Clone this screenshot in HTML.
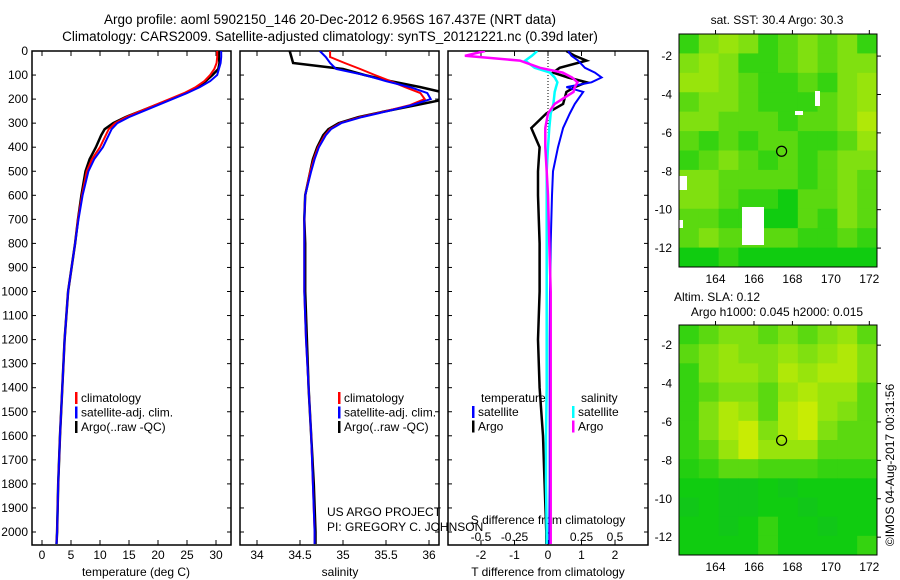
<!DOCTYPE html>
<html><head><meta charset="utf-8"><style>
body{margin:0;background:#fff;}
svg{display:block;font-family:"Liberation Sans",sans-serif;}
</style></head><body>
<svg id="c" width="900" height="580" viewBox="0 0 900 580">
<text x="330" y="24" font-size="13.5" text-anchor="middle">Argo profile: aoml 5902150_146 20-Dec-2012 6.956S 167.437E (NRT data)</text>
<text x="330" y="41" font-size="13.5" text-anchor="middle">Climatology: CARS2009. Satellite-adjusted climatology: synTS_20121221.nc (0.39d later)</text>
<text x="777" y="24" font-size="12" text-anchor="middle">sat. SST: 30.4 Argo: 30.3</text>
<text x="717" y="301" font-size="12" text-anchor="middle">Altim. SLA: 0.12</text>
<text x="777" y="316" font-size="12" text-anchor="middle">Argo h1000: 0.045 h2000: 0.015</text>
<text transform="translate(894,465) rotate(-90)" font-size="12" text-anchor="middle">©IMOS 04-Aug-2017 00:31:56</text>
<g id="g"></g>
</svg>
<script>
// ---- data ----
const depths=[0,25,50,75,100,125,150,175,200,225,250,275,300,325,350,400,450,500,600,700,800,900,1000,1200,1400,1600,1800,2000,2050];
const tempClim=[30.2,30.2,30.1,29.7,29.0,28.0,26.5,24.5,22,19.5,17,14.5,12.6,11.5,11,10,8.6,7.7,6.9,6.2,5.7,5.1,4.5,3.9,3.5,3.1,2.8,2.6,2.5];
const tempSat=[30.9,30.9,30.8,30.5,30.2,29,27.2,25,22.5,20,17.5,15,13,12,11.5,10.5,9,8,7,6.3,5.7,5.1,4.5,3.9,3.5,3.1,2.8,2.6,2.5];
const tempArgo=[30.5,30.5,30.6,30.4,29.4,28.2,26.8,24.8,22.2,19.6,17,14.4,12.3,10.8,10.2,9.3,8.2,7.5,6.8,6.2,5.7,5.1,4.5,3.9,3.5,3.1,2.8,2.6,2.5];
const salClim=[34.85,34.85,35.02,35.2,35.37,35.55,35.72,35.9,35.95,35.78,35.5,35.2,34.97,34.85,34.79,34.71,34.66,34.62,34.56,34.55,34.55,34.55,34.55,34.57,34.6,34.63,34.65,34.67,34.67];
const salSat=[34.73,34.8,34.85,34.92,35.25,35.5,35.78,35.98,36.02,35.8,35.52,35.22,34.98,34.86,34.8,34.72,34.67,34.63,34.56,34.55,34.55,34.55,34.55,34.57,34.6,34.63,34.65,34.67,34.67];
const salArgo=[34.38,34.4,34.42,35.0,35.25,35.55,35.9,36.2,36.2,35.85,35.5,35.18,34.95,34.83,34.77,34.7,34.65,34.62,34.56,34.55,34.56,34.56,34.56,34.58,34.6,34.63,34.66,34.68,34.68];
const diffDepths=[0,20,40,70,90,110,130,150,170,220,260,320,400,500,600,800,1000,1200,1400,1600,1800,2000,2050];
const dTsat=[0.6,0.7,0.9,1.1,1.4,1.6,1.3,0.55,1.05,0.8,0.65,0.45,0.3,0.15,0.12,0.08,0.06,0.05,0.05,0.05,0.05,0.04,0.04];
const dTargo=[0.55,0.8,1.15,0.35,0.15,0.6,1.15,0.8,0.55,0.45,-0.05,-0.5,-0.25,-0.3,-0.3,-0.25,-0.25,-0.3,-0.25,-0.15,-0.1,-0.05,-0.05];
const dSsat=[-0.08,-0.12,-0.17,-0.1,0.015,0.05,0.07,0.06,0.05,0.04,0.02,0.01,0.0,-0.01,-0.01,-0.01,-0.01,-0.01,-0.01,-0.015,-0.015,-0.01,-0.01];
const dSargo=[-0.47,-0.62,-0.21,-0.06,0.11,0.18,0.22,0.2,0.19,0.05,0.0,-0.02,-0.02,-0.01,0.0,0.01,0.02,0.02,0.02,0.02,0.02,0.02,0.02];
const depthTicks=[0,100,200,300,400,500,600,700,800,900,1000,1100,1200,1300,1400,1500,1600,1700,1800,1900,2000];
const tempTicks=[0,5,10,15,20,25,30];
const salTicks=[34,34.5,35,35.5,36];
const salTickLabels=["34","34.5","35","35.5","36"];
const tdTicks=[-2,-1,0,1,2];
const sdTicks=[-0.5,-0.25,0,0.25,0.5];
const sdTickLabels=["-0.5","-0.25","0","0.25","0.5"];
const lonTicks=[164,166,168,170,172];
const latTicks=[-2,-4,-6,-8,-10,-12];
const sstGrid=[
[.4,.6,.7,.6,.4,.5,.6,.5,.6,.4],
[.6,.7,.6,.4,.4,.5,.6,.5,.6,.6],
[.7,.7,.6,.5,.4,.4,.5,.4,.6,.7],
[.5,.6,.6,.5,.4,.4,.4,.5,.6,.7],
[.6,.6,.5,.5,.5,.4,.5,.5,.6,.8],
[.5,.4,.5,.4,.5,.5,.4,.4,.5,.7],
[.4,.5,.6,.5,.4,.5,.4,.5,.6,.6],
[.6,.6,.5,.5,.5,.5,.4,.5,.6,.5],
[.6,.6,.5,.4,.4,.3,.5,.5,.6,.5],
[.5,.5,.4,.4,.3,.3,.5,.4,.6,.5],
[.5,.6,.5,.5,.5,.5,.4,.4,.5,.4],
[.3,.3,.4,.3,.3,.3,.3,.3,.3,.3]];
const slaGrid=[
[.4,.5,.6,.6,.5,.6,.5,.6,.7,.5],
[.5,.6,.7,.6,.6,.7,.6,.7,.8,.6],
[.4,.6,.7,.7,.6,.8,.7,.8,.8,.6],
[.4,.5,.6,.6,.5,.7,.8,.7,.7,.5],
[.4,.6,.8,.7,.5,.8,.9,.7,.6,.5],
[.4,.6,.8,.9,.6,.8,.9,.6,.5,.5],
[.4,.5,.7,.9,.7,.7,.7,.5,.5,.5],
[.35,.4,.5,.5,.45,.45,.45,.4,.4,.4],
[.3,.3,.25,.25,.3,.25,.3,.3,.3,.3],
[.25,.3,.25,.25,.3,.3,.25,.3,.3,.3],
[.3,.3,.25,.3,.4,.3,.3,.25,.3,.3],
[.3,.3,.3,.3,.4,.3,.3,.3,.3,.4]];
const argoLon=167.437, argoLat=-6.956;

// ---- drawing ----
const NS="http://www.w3.org/2000/svg";
const G=document.getElementById('g');
function mk(tag,at,parent){const e=document.createElementNS(NS,tag);for(const k in at)e.setAttribute(k,at[k]);(parent||G).appendChild(e);return e;}
function txt(x,y,s,anchor,size){const t=mk('text',{x:x,y:y,'font-size':size||12,'text-anchor':anchor||'middle'});t.textContent=s;return t;}
const Y=d=>51+d*0.2405;
const xT=v=>42+v*5.8;
const xS=v=>257+(v-34)*86;
const xTD=v=>548+v*33.5;
const xSD=v=>548+v*134;

function frame(x0,x1,name){const r=mk('rect',{x:x0,y:51,width:x1-x0,height:494,fill:'none',stroke:'#000','stroke-width':1.5});

}
frame(32,231,'temperature-panel');frame(240,439,'salinity-panel');frame(448,648,'difference-panel');

depthTicks.forEach(d=>{const y=Y(d);
 const l=txt(28,y+4,String(d),'end');
 
 
 [[32,36],[227,231],[240,244],[435,439],[448,452],[644,648]].forEach(p=>mk('line',{x1:p[0],x2:p[1],y1:y,y2:y,stroke:'#000'}));});

function xaxis(ticks,labels,f,y){ticks.forEach((t,i)=>{const x=f(t);mk('line',{x1:x,x2:x,y1:545,y2:540,stroke:'#000'});mk('line',{x1:x,x2:x,y1:51,y2:56,stroke:'#000'});
 const l=txt(x,y,labels[i]);
 
 });}
xaxis(tempTicks,tempTicks.map(String),xT,559);
xaxis(salTicks,salTickLabels,xS,559);
xaxis(tdTicks,tdTicks.map(String),xTD,559);
sdTicks.forEach((t,i)=>{const l=txt(xSD(t),541,sdTickLabels[i]);
 
 });
let a=txt(136,576,'temperature (deg C)');
a=txt(340,576,'salinity');
a=txt(548,576,'T difference from climatology');
a=txt(548,524,'S difference from climatology');
a=txt(327,516,'US ARGO PROJECT','start');
a=txt(327,531,'PI: GREGORY C. JOHNSON','start');

mk('line',{x1:548,x2:548,y1:51,y2:150,stroke:'#000','stroke-dasharray':'1,2'});

const clip1=mk('clipPath',{id:'c1'});mk('rect',{x:32,y:51,width:199,height:494},clip1);
const clip2=mk('clipPath',{id:'c2'});mk('rect',{x:240,y:51,width:199,height:494},clip2);
const clip3=mk('clipPath',{id:'c3'});mk('rect',{x:448,y:51,width:200,height:494},clip3);
const g1=mk('g',{'clip-path':'url(#c1)'}),g2=mk('g',{'clip-path':'url(#c2)'}),g3=mk('g',{'clip-path':'url(#c3)'});
function lineIn(g,xs,ds,fx,color,name,w){const pts=xs.map((v,i)=>fx(v).toFixed(1)+','+Y(ds[i]).toFixed(1)).join(' ');
 const p=mk('polyline',{points:pts,fill:'none',stroke:color,'stroke-width':w||2},g);
 
 }
lineIn(g1,tempArgo,depths,xT,'#000','temp-argo-line',2.5);
lineIn(g1,tempClim,depths,xT,'#f00','temp-clim-line');
lineIn(g1,tempSat,depths,xT,'#00f','temp-satellite-line');
lineIn(g2,salArgo,depths,xS,'#000','sal-argo-line',2.5);
lineIn(g2,salClim,depths,xS,'#f00','sal-clim-line');
lineIn(g2,salSat,depths,xS,'#00f','sal-satellite-line');
lineIn(g3,dTargo,diffDepths,xTD,'#000','tdiff-argo-line',2.5);
lineIn(g3,dTsat,diffDepths,xTD,'#00f','tdiff-satellite-line');
lineIn(g3,dSsat,diffDepths,xSD,'#0ff','sdiff-satellite-line',2.5);
lineIn(g3,dSargo,diffDepths,xSD,'#f0f','sdiff-argo-line',2.5);

function legend(x,y,items,name){items.forEach((it,i)=>{const yy=y+i*14.5;
 mk('rect',{x:x,y:yy-10,width:2.5,height:12,fill:it[1]});
 const t=txt(x+6,yy,it[0],'start');
 
 });}
legend(75,402,[['climatology','#f00'],['satellite-adj. clim.','#00f'],['Argo(..raw -QC)','#000']],'temp-legend');
legend(338,402,[['climatology','#f00'],['satellite-adj. clim.','#00f'],['Argo(..raw -QC)','#000']],'sal-legend');
a=txt(481,402,'temperature','start');
a=txt(581,402,'salinity','start');
legend(472,416,[['satellite','#00f'],['Argo','#000']],'diff-legend-temp');
legend(572,416,[['satellite','#0ff'],['Argo','#f0f']],'diff-legend-sal');

// maps
function col(v){const st=[[0,[24,176,64]],[0.3,[16,204,16]],[0.6,[128,224,16]],[1,[224,240,0]]];
 for(let i=1;i<st.length;i++){if(v<=st[i][0]){const a=st[i-1],b=st[i],t=(v-a[0])/(b[0]-a[0]);
  return 'rgb('+a[1].map((c,k)=>Math.round(c+(b[1][k]-c)*t)).join(',')+')';}}return 'rgb(224,240,0)';}
function map(grid,top,bot,latTop,name,patches){
 const x0=679,x1=877,lon0=162.1,lon1=172.4;
 const fx=l=>x0+(l-lon0)*(x1-x0)/(lon1-lon0);
 const fy=l=>top+(latTop-l)*19.2;
 const rows=grid.length,cols=grid[0].length,cw=(x1-x0)/cols,ch=(bot-top)/rows;
 const g=mk('g',{});
 
 
 grid.forEach((r,i)=>r.forEach((v,j)=>{mk('rect',{x:x0+j*cw,y:top+i*ch,width:cw+0.5,height:ch+0.5,fill:col(v)},g);}));
 (patches||[]).forEach(p=>mk('rect',{x:p[0],y:p[1],width:p[2],height:p[3],fill:'#fff'},g));
 mk('rect',{x:x0,y:top,width:x1-x0,height:bot-top,fill:'none',stroke:'#000'});
 latTicks.forEach(l=>{const y=fy(l);mk('line',{x1:x1,x2:x1+4,y1:y,y2:y,stroke:'#000'});
  const t=txt(672,y+4,String(l),'end');
  
  });
 lonTicks.forEach(l=>{const x=fx(l);mk('line',{x1:x,x2:x,y1:top,y2:top-4,stroke:'#000'});
  const t=txt(x,bot+16,String(l));
  
  });
 const c=mk('circle',{cx:fx(argoLon),cy:fy(argoLat),r:5,fill:'none',stroke:'#000','stroke-width':1.2});
 
 
}
map(sstGrid,34,267,-0.85,'sst-map',[[815,91,5,15],[679,176,8,14],[795,111,8,4],[742,207,22,38],[679,220,4,8]]);
map(slaGrid,325,555,-0.95,'sla-map',[]);
</script>
</body></html>
